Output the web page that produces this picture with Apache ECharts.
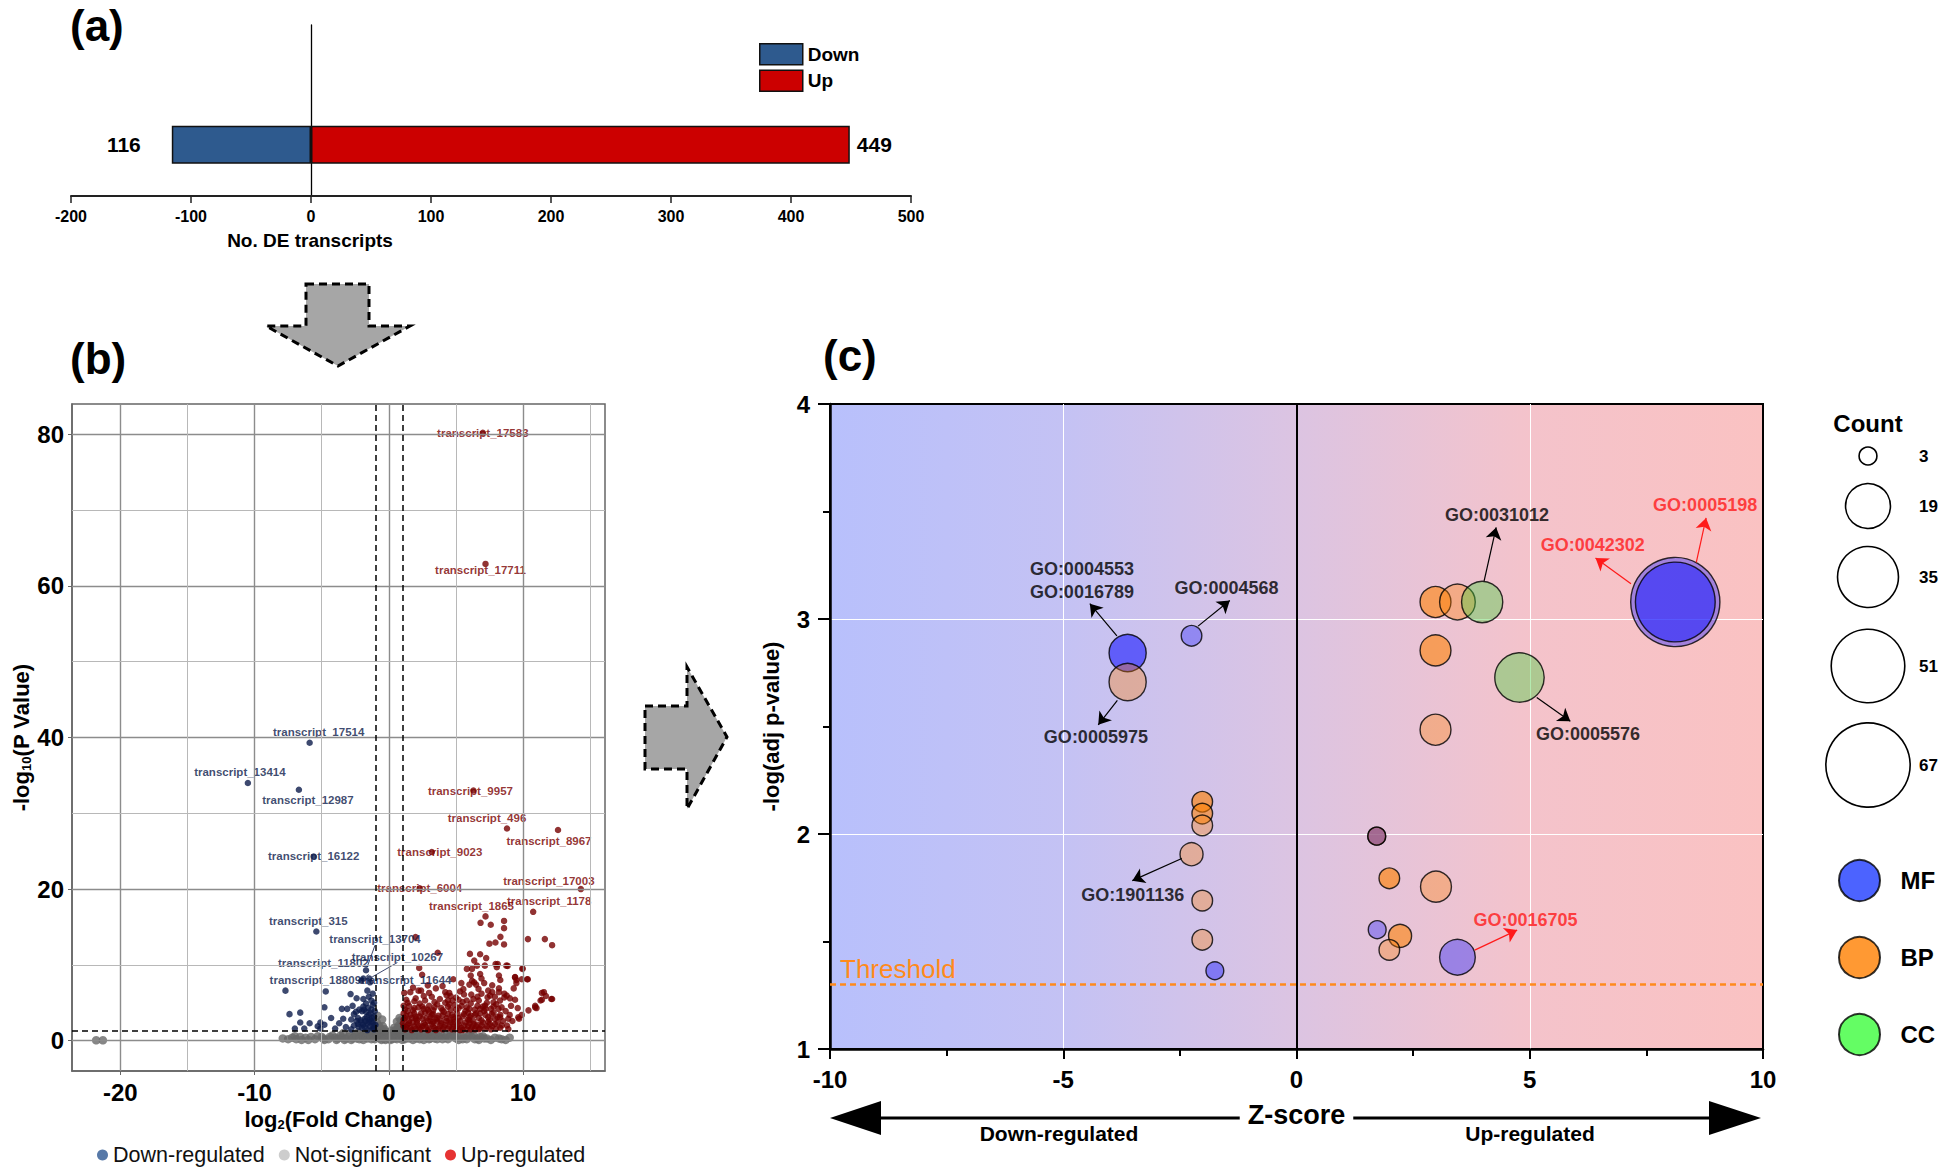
<!DOCTYPE html>
<html>
<head>
<meta charset="utf-8">
<title>DE transcripts, volcano plot and GO bubble plot</title>
<script src="https://cdn.jsdelivr.net/npm/echarts@6/dist/echarts.min.js"></script>
<style>
  html, body { margin: 0; padding: 0; background: #fff; }
  #chart { width: 1944px; height: 1167px; }
</style>
</head>
<body>
<div id="chart"></div>
<script>
// ---------- (a) number of DE transcripts ----------
const deTicks = [-200, -100, 0, 100, 200, 300, 400, 500];
const barRows = ['', 'DE', ' ', '  ', '   '];   // the bar sits in the 2nd row
const downCount = 116;
const upCount = 449;

// ---------- (b) volcano: [log2 fold change, -log10 p] ----------
const volcanoXTicks = [-20, -10, 0, 10];
const volcanoYTicks = [0, 20, 40, 60, 80];
const volcanoXMinor = [-15, -5, 5, 15];
const volcanoYMinor = [10, 30, 50, 70];
const fcCutoff = 1;
const pCutoff = 1.3;

const downNames = ['transcript_17514', 'transcript_13414', 'transcript_12987', 'transcript_16122',
  'transcript_315', 'transcript_13704', 'transcript_11802', 'transcript_10267', 'transcript_18809',
  'transcript_11644'];
const downNamed = [[-5.9, 39.3], [-10.5, 34.0], [-6.7, 33.1], [-5.6, 24.3], [-5.4, 14.4],
  [-1.7, 9.3], [-1.9, 8.2], [-1.45, 8.2], [-2.05, 7.9], [-1.4, 7.7]];
const downPoints = [[-7.7, 6.6], [-4.7, 6.5], [-2.85, 6.15], [-2.4, 5.6], [-1.9, 5.5], [-1.5, 5.8],
  [-1.2, 6.2], [-1.3, 5.3], [-1.7, 4.9], [-1.9, 4.5], [-2.2, 4.1], [-1.2, 4.7], [-4.8, 4.4],
  [-3.5, 4.2], [-3.1, 4.2], [-7.4, 3.5], [-6.6, 3.7], [-2.6, 3.5], [-2.3, 3.0], [-2.1, 2.7],
  [-1.8, 2.9], [-1.5, 3.4], [-1.1, 3.2], [-1.2, 2.4], [-1.6, 2.2], [-1.9, 2.1], [-2.3, 2.2],
  [-2.6, 2.0], [-1.4, 1.9], [-2.0, 1.7], [-1.2, 1.6], [-5.9, 2.3], [-5.1, 2.4], [-4.8, 2.1],
  [-3.7, 2.3], [-7.0, 1.6], [-6.3, 1.6], [-5.1, 1.6], [-4.0, 1.6], [-3.2, 1.8], [-2.8, 1.5],
  [-1.6, 1.4], [-1.1, 1.5], [-2.4, 2.6], [-1.4, 2.8], [-1.7, 3.8], [-2.0, 3.9], [-1.3, 4.1],
  [-1.0, 2.1], [-1.1, 5.0], [-2.7, 4.6], [-1.6, 6.6], [-1.15, 2.0], [-1.3, 2.6], [-1.5, 2.5],
  [-1.75, 2.6], [-2.05, 2.4], [-2.25, 1.8], [-1.8, 1.8], [-1.35, 3.6], [-1.55, 4.3], [-1.85, 4.1],
  [-2.45, 3.8], [-1.05, 3.9], [-1.25, 3.0], [-1.65, 3.1], [-2.8, 2.8], [-3.4, 2.9], [-4.3, 3.0],
  [-5.3, 1.9], [-6.6, 2.4]];

const upNames = ['transcript_17583', 'transcript_17711', 'transcript_9957', 'transcript_496',
  'transcript_8967', 'transcript_9023', 'transcript_6004', 'transcript_17003', 'transcript_1178',
  'transcript_1865'];
const upNamed = [[7.0, 80.2], [7.2, 62.9], [6.3, 33.0], [8.8, 28.0], [12.6, 27.8], [3.2, 24.9],
  [2.3, 20.1], [14.3, 20.0], [10.75, 17.0], [7.2, 16.4]];
const upPoints = [[6.83, 15.55], [7.59, 15.3], [8.58, 15.8], [8.58, 14.85], [8.31, 13.7],
  [7.49, 12.8], [7.94, 12.95], [8.58, 12.7], [10.36, 13.4], [11.62, 13.4], [12.16, 12.6],
  [6.04, 11.45], [6.8, 11.4], [7.25, 10.9], [6.36, 10.57], [6.56, 9.9], [6.19, 9.47], [8.11, 10.1],
  [8.04, 9.7], [8.85, 9.87], [9.96, 9.56], [5.81, 9.47], [2.26, 9.6], [3.64, 11.6], [1.99, 13.66],
  [6.1, 8.6], [6.8, 8.8], [6.9, 8.2], [6.2, 7.9], [6.5, 7.4], [6.0, 7.4], [7.1, 7.6],
  [8.2, 8.6], [8.3, 8.0], [7.7, 7.3], [8.2, 6.9], [9.4, 8.4], [9.5, 8.0], [9.9, 8.1], [9.5, 7.6],
  [10.3, 8.1], [11.4, 6.3], [11.7, 5.9], [12.1, 5.5], [11.4, 5.4], [10.9, 4.6], [11.0, 4.3],
  [9.64, 3.08], [8.9, 1.54], [4.5, 6.3], [4.6, 5.9], [5.3, 6.5], [5.2, 5.4], [4.4, 5.3],
  [6.14, 6.08], [6.68, 6.83], [7.35, 5.73], [7.54, 5.95], [7.17, 4.63], [7.79, 5.07], [8.28, 5.29],
  [8.78, 5.95], [9.02, 5.59], [8.16, 4.19], [7.67, 3.52], [6.8, 4.19], [8.28, 3.08],
  [1.15, 6.3], [2.21, 6.6], [2.48, 8.7], [4.2, 6.4], [4.75, 5.3], [5.55, 6.8], [6.35, 7.7],
  [7.15, 9.9], [7.95, 10.1], [8.75, 9.9], [9.4, 8.35], [9.95, 9.45], [10.35, 8.1], [11.55, 6.4],
  [11.3, 5.3], [12.16, 5.5], [10.9, 4.4], [9.7, 2.9], [8.6, 5.7], [8.2, 6.4], [7.7, 6.4],
  [1.2, 1.5], [1.4, 2.1], [1.6, 1.7], [1.8, 2.4], [2.0, 1.6], [2.2, 2.0], [2.4, 1.5], [2.6, 2.3],
  [2.8, 1.8], [3.0, 1.5], [3.2, 2.2], [3.4, 1.7], [3.6, 2.5], [3.8, 1.9], [4.0, 1.5], [4.2, 2.1],
  [4.4, 1.6], [4.6, 2.4], [4.8, 1.8], [5.0, 1.5], [5.2, 2.2], [5.4, 1.7], [5.6, 2.0], [5.8, 1.5],
  [6.0, 2.3], [6.2, 1.8], [6.4, 1.5], [6.6, 2.1], [6.8, 1.6], [7.0, 2.4], [7.3, 1.9], [7.6, 1.5],
  [7.9, 2.2], [8.3, 1.7], [1.1, 2.8], [1.3, 3.3], [1.5, 2.6], [1.7, 3.0], [1.9, 3.6], [2.1, 2.7],
  [2.3, 3.2], [2.5, 2.9], [2.7, 3.7], [2.9, 2.6], [3.1, 3.1], [3.3, 3.5], [3.5, 2.8], [3.7, 3.3],
  [3.9, 2.6], [4.1, 3.8], [4.3, 3.0], [4.5, 2.7], [4.7, 3.4], [4.9, 2.9], [5.1, 3.6], [5.3, 2.6],
  [5.5, 3.2], [5.7, 3.9], [5.9, 2.8], [6.1, 3.3], [6.3, 2.6], [6.5, 3.6], [6.7, 3.0], [6.9, 2.7],
  [7.2, 3.4], [7.5, 2.8], [7.8, 3.7], [8.1, 3.1], [8.5, 2.6], [1.2, 4.1], [1.5, 4.6], [1.9, 4.3],
  [2.3, 4.9], [2.6, 4.2], [3.0, 4.6], [3.3, 4.0], [3.6, 4.8], [3.9, 4.3], [4.2, 5.0], [4.6, 4.1],
  [4.9, 4.7], [5.2, 4.3], [5.5, 5.1], [5.8, 4.4], [6.1, 4.9], [6.4, 4.1], [6.7, 5.3], [7.0, 4.5],
  [7.3, 5.0], [7.6, 4.2], [8.0, 4.8], [8.4, 4.4], [8.7, 3.9], [9.1, 4.6], [9.4, 5.4], [2.0, 5.6],
  [2.7, 5.3], [3.2, 5.8], [3.8, 5.5], [4.3, 6.0], [5.0, 5.7], [5.6, 6.1], [6.3, 5.5], [6.9, 6.2],
  [7.4, 6.6], [8.6, 6.2], [9.3, 6.9], [3.5, 6.9], [2.9, 7.3], [5.4, 7.6], [4.8, 8.1], [1.6, 6.4],
  [1.3, 5.4], [1.8, 7.0], [2.4, 6.6], [1.1, 1.9], [1.7, 1.4], [2.5, 1.9], [3.5, 1.4], [4.5, 1.9],
  [5.5, 1.4], [6.5, 1.9], [7.5, 2.2], [8.0, 1.6], [8.8, 2.0], [9.2, 2.6], [9.9, 3.4], [10.4, 4.0],
  [3.3, 2.5], [4.8, 2.2], [6.0, 2.7], [2.0, 2.9], [7.1, 3.9], [5.9, 3.7], [4.4, 4.5], [3.0, 3.8],
  [2.2, 4.4], [1.3, 1.8], [1.5, 2.3], [1.9, 1.9], [2.1, 2.4], [2.3, 1.7], [2.7, 2.1], [2.9, 1.4],
  [3.1, 2.6], [3.3, 1.9], [3.7, 1.6], [3.9, 2.3], [4.1, 1.8], [4.3, 2.6], [4.7, 1.5], [4.9, 2.5],
  [5.1, 1.9], [5.3, 1.4], [5.7, 2.4], [5.9, 1.9], [6.1, 1.5], [6.3, 2.2], [6.7, 1.5], [6.9, 2.0],
  [7.2, 1.6], [7.4, 2.5], [7.7, 1.9], [8.1, 2.4], [8.4, 2.0], [1.2, 3.0], [1.6, 3.4], [2.0, 3.2],
  [2.4, 3.6], [2.8, 3.0], [3.2, 3.4], [3.6, 3.0], [4.0, 3.3], [4.4, 3.5], [4.8, 3.1], [5.2, 3.0],
  [5.6, 3.5], [6.0, 3.1], [6.4, 3.4], [6.8, 3.6], [7.4, 3.1], [7.9, 2.9], [8.3, 3.4], [1.4, 3.9],
  [1.8, 4.0], [2.5, 4.5], [2.9, 4.1], [3.4, 4.4], [4.0, 4.0], [4.5, 4.8], [5.0, 4.1], [5.4, 4.6],
  [6.0, 4.2], [6.6, 4.6], [7.2, 4.2], [7.8, 4.5], [1.1, 3.6], [1.05, 2.3], [1.1, 4.6], [1.4, 5.0],
  [1.9, 5.2], [2.6, 5.9], [3.4, 5.1], [3.0, 6.3], [4.0, 7.2], [5.8, 5.3], [6.6, 5.8], [7.9, 5.8],
  [9.0, 3.4], [9.6, 4.3], [8.9, 2.9]];

const nsPoints = [[-21.8, 0.05], [-21.3, 0.05], [-7.9, 0.3], [-6.9, 0.2], [-6.2, 0.4], [-5.5, 0.2],
  [-5.0, 0.5], [-4.5, 0.2], [-4.0, 0.4], [-3.6, 0.7], [-3.2, 0.3], [-2.9, 0.9], [-2.6, 0.5],
  [-2.3, 1.1], [-2.0, 0.6], [-1.8, 1.0], [-1.6, 0.3], [-1.4, 1.2], [-1.2, 0.8], [-1.0, 1.6],
  [-0.9, 2.4], [-0.85, 3.3], [-0.8, 0.5], [-0.7, 1.9], [-0.6, 1.0], [-0.5, 2.8], [-0.4, 0.3],
  [-0.3, 1.5], [-0.2, 0.7], [-0.1, 1.1], [0, 0.2], [0.1, 0.9], [0.2, 1.3], [0.3, 0.5], [0.4, 1.7],
  [0.5, 0.8], [0.6, 2.5], [0.7, 1.2], [0.8, 3.0], [0.9, 1.9], [0.95, 0.4], [1.1, 0.7], [1.3, 1.0],
  [1.5, 0.3], [1.7, 0.9], [1.9, 0.5], [2.1, 1.1], [2.3, 0.2], [2.5, 0.8], [2.8, 0.4], [3.0, 1.0],
  [3.3, 0.6], [3.6, 0.2], [3.9, 0.9], [4.2, 0.4], [4.6, 1.0], [5.0, 0.3], [5.4, 0.7], [5.8, 0.2],
  [6.2, 0.5], [6.6, 0.3], [7.0, 0.6], [7.6, 0.1], [8.2, 0.3], [8.7, 0.1], [9.0, 0.4],
  [-3.9, 0.1], [-3.4, 1.0], [-2.8, 0.1], [-2.4, 0.3], [-2.1, 0.9], [-1.9, 0.1], [-1.5, 0.7],
  [-1.3, 0.2], [-1.1, 1.0], [-0.9, 0.6], [-0.75, 1.3], [-0.55, 0.1], [-0.45, 1.9], [-0.35, 0.8],
  [-0.15, 0.4], [0.05, 0.6], [0.15, 0.1], [0.35, 1.1], [0.45, 0.3], [0.55, 1.5], [0.65, 0.6],
  [0.75, 2.0], [0.85, 0.9], [0.9, 2.7], [1.0, 1.3], [1.2, 0.2], [1.4, 0.6], [1.6, 1.2], [1.8, 0.1],
  [2.0, 0.6], [2.2, 0.9], [2.6, 0.1], [2.9, 0.7], [3.1, 0.3], [3.5, 0.9], [3.8, 0.5], [4.4, 0.2],
  [4.8, 0.7], [5.2, 0.1], [5.6, 0.4], [6.0, 0.9], [6.4, 0.2], [6.8, 0.5], [7.3, 0.3], [-0.95, 1.1],
  [-0.65, 0.3], [-0.25, 0.1], [0.25, 0.3], [-1.7, 0.5], [-2.5, 0.7], [-3.0, 0.5], [-4.2, 0.7],
  [-4.8, 0.1], [-5.8, 0.5], [-6.5, 0.1], [-7.2, 0.4], [-7.5, 0.2], [-7.0, 0.6], [-6.6, 0.5],
  [-6.0, 0.1], [-5.3, 0.6], [-4.9, 0.3], [-4.4, 0.5], [-3.8, 0.3], [-3.5, 0.4], [-3.3, 0.1],
  [-2.7, 0.3], [-2.2, 0.2], [-1.95, 0.7], [-1.75, 0.4], [-1.55, 1.0], [-1.35, 0.5], [-1.15, 0.4],
  [-1.05, 0.2], [0.6, 0.2], [0.8, 0.6], [1.0, 0.1], [1.25, 0.5], [1.45, 0.9], [1.65, 0.6],
  [1.85, 0.8], [2.05, 0.3], [2.4, 0.5], [2.7, 0.9], [3.0, 0.2], [3.2, 0.8], [3.4, 0.3], [3.7, 0.6],
  [4.0, 0.2], [4.3, 0.8], [4.5, 0.5], [4.9, 0.5], [5.1, 0.8], [5.5, 0.2], [5.9, 0.6], [6.3, 0.8],
  [6.7, 0.1], [7.1, 0.3], [7.9, 0.4], [8.4, 0.2], [-0.7, 0.8], [-0.5, 0.5], [-0.3, 0.3],
  [-0.1, 0.5], [0.1, 0.3], [0.3, 0.8], [0.5, 0.4], [0.7, 0.4], [0.9, 1.0], [-0.9, 0.9],
  [-0.6, 1.5], [-0.2, 1.2], [0.2, 0.6], [0.7, 1.7], [-0.8, 2.0]];

// ---------- (c) GO terms: z-score, -log(adj p), gene count, ontology ----------
const zTicks = [-10, -5, 0, 5, 10];
const goZ = [-3.62, -2.25, 8.12, 8.12, -1.75, 1.73, 3.45, 1.72,
  2.98, 3.45, 2.98, 2.98, -3.62, -2.02, -2.02, -2.02, -2.25, -2.02, -2.02, 1.72, 1.99, 2.99, 2.22, 1.99,
  3.98, 4.78];
const goLogP = [2.842, 2.922, 3.079, 3.079, 1.364, 1.555, 1.427, 1.99,
  3.079, 3.079, 2.854, 2.485, 2.707, 2.15, 2.095, 2.04, 1.906, 1.69, 1.508, 1.99, 1.794, 1.755, 1.526, 1.461,
  3.079, 2.728];
const goCount = [13, 4, 75, 60, 3, 3, 12, 3,
  9, 12, 9, 9, 13, 4, 4, 4, 5, 4, 4, 3, 4, 9, 5, 4,
  16, 23];
const goCat = ['MF', 'MF', 'MF', 'MF', 'MF', 'MF', 'MF', 'MF',
  'BP', 'BP', 'BP', 'BP', 'BP', 'BP', 'BP', 'BP', 'BP', 'BP', 'BP', 'BP', 'BP', 'BP', 'BP', 'BP',
  'CC', 'CC'];
const countLegend = [3, 19, 35, 51, 67];
const thresholdLogP = 1.3;

// ---------- styles / layout ----------
const FONT = '"Liberation Sans", Arial, sans-serif';
const bubbleSize = c => 10.3 * Math.sqrt(c);
const goAlpha = [0.78, 0.45, 0.5, 0.72, 0.58, 0.45, 0.5, 0.8,
  0.72, 0.45, 0.72, 0.42, 0.42, 0.78, 0.72, 0.42, 0.42, 0.42, 0.42, 0.5, 0.78, 0.42, 0.72, 0.42,
  0.52, 0.52];
const catColor = { MF: [32, 32, 255], BP: [255, 128, 0], CC: [74, 208, 64] };
const labelShift = {
  transcript_17583: [0, 0], transcript_17711: [-5, 6], transcript_17514: [9, -11],
  transcript_13414: [-8, -11], transcript_12987: [9, 10], transcript_9957: [-3, 0],
  transcript_496: [-20, -10], transcript_8967: [-9, 11], transcript_16122: [0, 0],
  transcript_9023: [8, 0], transcript_6004: [0, 0], transcript_17003: [-32, -8],
  transcript_1178: [16, -11], transcript_1865: [-14, -10], transcript_315: [-8, -11],
  transcript_13704: [9, -31], transcript_11802: [-40, -16], transcript_10267: [28, -22],
  transcript_18809: [-46, -1], transcript_11644: [36, -2]
};
// annotation text centre and arrow, in (c) data units
const goNotes = [
  { text: 'GO:0004553\nGO:0016789', at: [-4.60, 3.179], from: [-3.85, 2.922], to: [-4.43, 3.071], red: false },
  { text: 'GO:0004568', at: [-1.50, 3.142], from: [-2.11, 2.967], to: [-1.43, 3.086], red: false },
  { text: 'GO:0005975', at: [-4.30, 2.451], from: [-3.84, 2.621], to: [-4.25, 2.508], red: false },
  { text: 'GO:0031012', at: [4.30, 3.485], from: [4.02, 3.175], to: [4.28, 3.426], red: false },
  { text: 'GO:0042302', at: [6.35, 3.342], from: [7.17, 3.164], to: [6.41, 3.284], red: true },
  { text: 'GO:0005198', at: [8.76, 3.532], from: [8.57, 3.263], to: [8.78, 3.470], red: true },
  { text: 'GO:0005576', at: [6.25, 2.467], from: [5.15, 2.635], to: [5.87, 2.524], red: false },
  { text: 'GO:1901136', at: [-3.51, 1.718], from: [-2.46, 1.886], to: [-3.52, 1.783], red: false },
  { text: 'GO:0016705', at: [4.91, 1.600], from: [3.82, 1.460], to: [4.73, 1.553], red: true }
];

const rgba = (c, a) => 'rgba(' + c[0] + ',' + c[1] + ',' + c[2] + ',' + a + ')';
const bold = (size, color) => ({ fontSize: size, fontWeight: 'bold', fontFamily: FONT, color: color || '#000' });

function namedPoints(names, pts, color, lines) {
  return pts.map((p, i) => ({
    value: p,
    name: names[i],
    label: {
      show: true, position: 'inside', formatter: '{b}', offset: labelShift[names[i]] || [0, 0],
      fontSize: 11.5, fontWeight: 'bold', fontFamily: FONT, color: color
    },
    labelLine: { show: lines.indexOf(names[i]) >= 0, lineStyle: { color: color, width: 0.8 } }
  }));
}

function goSeries(cat) {
  const data = [];
  goZ.forEach((z, i) => {
    if (goCat[i] !== cat) return;
    data.push({ value: [z, goLogP[i], goCount[i]], itemStyle: { color: rgba(catColor[cat], goAlpha[i]) } });
  });
  return {
    type: 'scatter', name: cat, xAxisIndex: 2, yAxisIndex: 2, z: 4,
    data: data,
    symbolSize: v => bubbleSize(v[2]),
    itemStyle: { color: rgba(catColor[cat], 0.6), borderColor: '#000', borderWidth: 1.4 }
  };
}

const volcanoGrid = [];
volcanoXTicks.forEach(v => volcanoGrid.push({ xAxis: v, lineStyle: { color: '#8c8c8c', width: 1.4, type: 'solid' } }));
volcanoYTicks.forEach(v => volcanoGrid.push({ yAxis: v, lineStyle: { color: '#8c8c8c', width: 1.4, type: 'solid' } }));
volcanoXMinor.forEach(v => volcanoGrid.push({ xAxis: v, lineStyle: { color: '#b8b8b8', width: 1, type: 'solid' } }));
volcanoYMinor.forEach(v => volcanoGrid.push({ yAxis: v, lineStyle: { color: '#b8b8b8', width: 1, type: 'solid' } }));

const dashed = { color: '#000', width: 1.5, type: [6, 4] };

const chart = echarts.init(document.getElementById('chart'), null, { renderer: 'svg' });

chart.setOption({
  animation: false,
  backgroundColor: '#fff',
  textStyle: { fontFamily: FONT },
  grid: [
    { left: 71, top: 25, width: 840, height: 171 },
    { left: 72, top: 404, width: 533, height: 667, show: true, borderColor: '#666', borderWidth: 1.5 },
    {
      left: 830, top: 404, width: 933, height: 645, show: true, borderColor: '#000', borderWidth: 2,
      backgroundColor: {
        type: 'linear', x: 0, y: 0, x2: 1, y2: 0,
        colorStops: [
          { offset: 0, color: '#b8c0fc' }, { offset: 0.25, color: '#c4c2f4' },
          { offset: 0.5, color: '#dcc4e2' }, { offset: 0.75, color: '#f4c3cb' }, { offset: 1, color: '#fac2c2' }
        ]
      }
    }
  ],
  xAxis: [
    {
      gridIndex: 0, type: 'value', min: deTicks[0], max: deTicks[deTicks.length - 1], interval: 100,
      axisLine: { show: true, onZero: false, lineStyle: { color: '#222', width: 2 } },
      axisTick: { show: true, length: 7, lineStyle: { color: '#222', width: 1.5 } },
      axisLabel: Object.assign({ margin: 12 }, bold(16)),
      splitLine: { show: false }
    },
    {
      gridIndex: 1, type: 'value', min: -23.6, max: 16.1,
      axisLine: { show: true, onZero: false, lineStyle: { color: '#666', width: 1.5 } },
      axisTick: { show: true, customValues: volcanoXTicks, length: 4, lineStyle: { color: '#666' } },
      axisLabel: Object.assign({ customValues: volcanoXTicks, margin: 9 }, bold(24)),
      splitLine: { show: false },
      name: '{a|log}{s|2}{a|(Fold Change)}', nameLocation: 'middle', nameGap: 30,
      nameTextStyle: {
        rich: {
          a: bold(22),
          s: { fontSize: 13, fontWeight: 'bold', fontFamily: FONT, color: '#000', verticalAlign: 'bottom', padding: [10, 0, 0, 0] }
        }
      }
    },
    {
      gridIndex: 2, type: 'value', min: zTicks[0], max: zTicks[zTicks.length - 1], interval: 5,
      axisLine: { show: true, onZero: false, lineStyle: { color: '#000', width: 2.5 } },
      axisTick: { show: true, length: 10, lineStyle: { color: '#000', width: 2 } },
      minorTick: { show: true, splitNumber: 2, length: 7, lineStyle: { color: '#000', width: 2 } },
      axisLabel: Object.assign({ margin: 18 }, bold(24)),
      splitLine: { show: true, showMinLine: false, showMaxLine: false, lineStyle: { color: '#fff', width: 1 } },
      name: 'Z-score', nameLocation: 'middle', nameGap: 52,
      nameTextStyle: Object.assign({ backgroundColor: '#fff', padding: [0, 8] }, bold(27))
    }
  ],
  yAxis: [
    {
      gridIndex: 0, type: 'category', data: barRows,
      axisLine: { show: true, onZero: true, lineStyle: { color: '#000', width: 1.3 } },
      axisTick: { show: false }, axisLabel: { show: false }, splitLine: { show: false }
    },
    {
      gridIndex: 1, type: 'value', min: -4, max: 84,
      axisLine: { show: true, onZero: false, lineStyle: { color: '#666', width: 1.5 } },
      axisTick: { show: true, customValues: volcanoYTicks, length: 4, lineStyle: { color: '#666' } },
      axisLabel: Object.assign({ customValues: volcanoYTicks, margin: 8 }, bold(24)),
      splitLine: { show: false },
      name: '{a|-log}{s|10}{a|(P Value)}', nameLocation: 'middle', nameGap: 34,
      nameTextStyle: {
        rich: {
          a: bold(22),
          s: { fontSize: 13, fontWeight: 'bold', fontFamily: FONT, color: '#000', verticalAlign: 'bottom', padding: [10, 0, 0, 0] }
        }
      }
    },
    {
      gridIndex: 2, type: 'value', min: 1, max: 4, interval: 1,
      axisLine: { show: true, onZero: false, lineStyle: { color: '#000', width: 2.5 } },
      axisTick: { show: true, length: 12, lineStyle: { color: '#000', width: 2 } },
      minorTick: { show: true, splitNumber: 2, length: 7, lineStyle: { color: '#000', width: 2 } },
      axisLabel: Object.assign({ margin: 20 }, bold(24)),
      splitLine: { show: true, showMinLine: false, showMaxLine: false, lineStyle: { color: '#fff', width: 1 } },
      name: '-log(adj p-value)', nameLocation: 'middle', nameGap: 48,
      nameTextStyle: bold(22)
    }
  ],
  legend: [
    {
      selectedMode: false, orient: 'vertical', left: 754, top: 38, itemWidth: 43, itemHeight: 21, itemGap: 4,
      icon: 'rect', data: ['Down', 'Up'],
      itemStyle: { borderColor: '#111', borderWidth: 1.5 },
      textStyle: bold(19)
    },
    {
      selectedMode: false, orient: 'horizontal', left: 92, top: 1139, itemWidth: 11, itemHeight: 11, itemGap: 14,
      icon: 'circle',
      data: [
        { name: 'Down-regulated', itemStyle: { color: '#2d5892', borderWidth: 0 } },
        { name: 'Not-significant', itemStyle: { color: '#c0c0c0', borderWidth: 0 } },
        { name: 'Up-regulated', itemStyle: { color: '#e00000', borderWidth: 0 } }
      ],
      textStyle: { fontSize: 21.5, color: '#111', fontFamily: FONT }
    },
    {
      selectedMode: false, orient: 'vertical', left: 1833, top: 854, itemWidth: 44, itemHeight: 41, itemGap: 34,
      icon: 'circle',
      data: [
        { name: 'MF', itemStyle: { color: '#1f3cff' } },
        { name: 'BP', itemStyle: { color: '#ff7f00' } },
        { name: 'CC', itemStyle: { color: '#3dfc3d' } }
      ],
      itemStyle: { borderColor: '#000', borderWidth: 2 },
      textStyle: Object.assign({ padding: [0, 0, 0, 14] }, bold(24))
    }
  ],
  series: [
    // (a)
    {
      type: 'bar', name: 'Down', xAxisIndex: 0, yAxisIndex: 0, barWidth: 38, barGap: '-100%',
      data: barRows.map((r, i) => (i === 1 ? -downCount : '-')),
      itemStyle: { color: '#2e5a8e', borderColor: '#111', borderWidth: 1.5 },
      label: Object.assign({ show: true, position: 'left', distance: 31, formatter: p => Math.abs(p.value) }, bold(21))
    },
    {
      type: 'bar', name: 'Up', xAxisIndex: 0, yAxisIndex: 0, barWidth: 38, barGap: '-100%',
      data: barRows.map((r, i) => (i === 1 ? upCount : '-')),
      itemStyle: { color: '#cc0000', borderColor: '#111', borderWidth: 1.5 },
      label: Object.assign({ show: true, position: 'right', distance: 7 }, bold(21))
    },
    // (b) grid lines
    {
      type: 'scatter', name: 'volcano-grid', xAxisIndex: 1, yAxisIndex: 1, data: [], z: 1, silent: true,
      markLine: { silent: true, symbol: 'none', animation: false, label: { show: false }, data: volcanoGrid }
    },
    {
      type: 'scatter', name: 'Not-significant', xAxisIndex: 1, yAxisIndex: 1, z: 2, symbolSize: 8.5,
      itemStyle: { color: '#686868' }, data: nsPoints
    },
    {
      type: 'scatter', name: 'Down-regulated', xAxisIndex: 1, yAxisIndex: 1, z: 3, symbolSize: 6.5,
      itemStyle: { color: '#0d1b4b' },
      data: downPoints.concat(namedPoints(downNames, downNamed, '#0d1b4b',
        ['transcript_13704', 'transcript_11802', 'transcript_10267']))
    },
    {
      type: 'scatter', name: 'Up-regulated', xAxisIndex: 1, yAxisIndex: 1, z: 3, symbolSize: 6.5,
      itemStyle: { color: '#760000' },
      data: upPoints.concat(namedPoints(upNames, upNamed, '#7a0000', []))
    },
    {
      type: 'scatter', name: 'volcano-cutoffs', xAxisIndex: 1, yAxisIndex: 1, data: [], z: 5, silent: true,
      markLine: {
        silent: true, symbol: 'none', animation: false, label: { show: false },
        data: [
          { xAxis: -fcCutoff, lineStyle: dashed },
          { xAxis: fcCutoff, lineStyle: dashed },
          { yAxis: pCutoff, lineStyle: dashed }
        ]
      }
    },
    // (c)
    {
      type: 'scatter', name: 'go-lines', xAxisIndex: 2, yAxisIndex: 2, data: [], z: 2, silent: true,
      markLine: {
        silent: true, symbol: 'none', animation: false,
        data: [
          { xAxis: 0, lineStyle: { color: '#000', width: 2, type: 'solid' }, label: { show: false } },
          {
            yAxis: thresholdLogP, lineStyle: { color: '#ff8a1c', width: 2.5, type: [6, 4] },
            label: {
              show: true, position: 'insideStartTop', formatter: 'Threshold', distance: [10, 3],
              fontSize: 26, fontFamily: FONT, color: '#ff8a1c'
            }
          }
        ]
      }
    },
    goSeries('MF'),
    goSeries('BP'),
    goSeries('CC'),
    {
      type: 'lines', name: 'go-arrows', coordinateSystem: 'cartesian2d', xAxisIndex: 2, yAxisIndex: 2, z: 6,
      symbol: ['none', 'arrow'], symbolSize: 12, silent: true,
      data: goNotes.map(n => ({
        coords: [n.from, n.to],
        lineStyle: { color: n.red ? '#ff1a1a' : '#000', width: 1.2, opacity: 1 }
      }))
    },
    {
      type: 'scatter', name: 'go-notes', xAxisIndex: 2, yAxisIndex: 2, z: 6, symbolSize: 0, silent: true,
      data: goNotes.map(n => ({
        value: n.at, name: n.text,
        label: { color: n.red ? '#ff1a1a' : '#000' }
      })),
      label: { show: true, position: 'inside', formatter: '{b}', fontSize: 18, fontWeight: 'bold', fontFamily: FONT, lineHeight: 23 }
    }
  ],
  graphic: [
    { type: 'text', x: 70, y: 25, style: { text: '(a)', fontSize: 44, fontWeight: 'bold', fontFamily: FONT, fill: '#000', textAlign: 'left', textVerticalAlign: 'middle' } },
    { type: 'text', x: 70, y: 358, style: { text: '(b)', fontSize: 44, fontWeight: 'bold', fontFamily: FONT, fill: '#000', textAlign: 'left', textVerticalAlign: 'middle' } },
    { type: 'text', x: 823, y: 355, style: { text: '(c)', fontSize: 44, fontWeight: 'bold', fontFamily: FONT, fill: '#000', textAlign: 'left', textVerticalAlign: 'middle' } },
    { type: 'text', x: 310, y: 240, style: { text: 'No. DE transcripts', fontSize: 19, fontWeight: 'bold', fontFamily: FONT, fill: '#000', textAlign: 'center', textVerticalAlign: 'middle' } },
    {
      type: 'polygon',
      shape: { points: [[306, 284], [369, 284], [369, 326], [410, 326], [338, 366], [266, 326], [306, 326]] },
      style: { fill: '#a6a6a6', stroke: '#000', lineWidth: 3, lineDash: [8, 5] }
    },
    {
      type: 'polygon',
      shape: { points: [[645, 706], [687, 706], [687, 667], [727, 737], [687, 809], [687, 769], [645, 769]] },
      style: { fill: '#a6a6a6', stroke: '#000', lineWidth: 3, lineDash: [8, 5] }
    },
    // Z-score double arrow
    { type: 'polygon', shape: { points: [[830, 1118], [881, 1101], [881, 1135]] }, style: { fill: '#000' } },
    { type: 'polygon', shape: { points: [[1761, 1118], [1709, 1101], [1709, 1135]] }, style: { fill: '#000' } },
    { type: 'line', shape: { x1: 880, y1: 1118, x2: 1710, y2: 1118 }, style: { stroke: '#000', lineWidth: 3 }, z: -1 },
    { type: 'text', x: 1059, y: 1133, style: { text: 'Down-regulated', fontSize: 21, fontWeight: 'bold', fontFamily: FONT, fill: '#000', textAlign: 'center', textVerticalAlign: 'middle' } },
    { type: 'text', x: 1530, y: 1133, style: { text: 'Up-regulated', fontSize: 21, fontWeight: 'bold', fontFamily: FONT, fill: '#000', textAlign: 'center', textVerticalAlign: 'middle' } },
    // count legend
    { type: 'text', x: 1868, y: 423, style: { text: 'Count', fontSize: 24, fontWeight: 'bold', fontFamily: FONT, fill: '#000', textAlign: 'center', textVerticalAlign: 'middle' } }
  ].concat(countLegend.map((c, i) => ({
    type: 'circle', shape: { cx: 1868, cy: [456, 506, 577, 666, 765][i], r: bubbleSize(c) / 2 },
    style: { fill: '#fff', stroke: '#000', lineWidth: 1.6 }
  }))).concat(countLegend.map((c, i) => ({
    type: 'text', x: 1919, y: [456, 506, 577, 666, 765][i],
    style: { text: String(c), fontSize: 17, fontWeight: 'bold', fontFamily: FONT, fill: '#000', textAlign: 'left', textVerticalAlign: 'middle' }
  })))
});
</script>
</body>
</html>
